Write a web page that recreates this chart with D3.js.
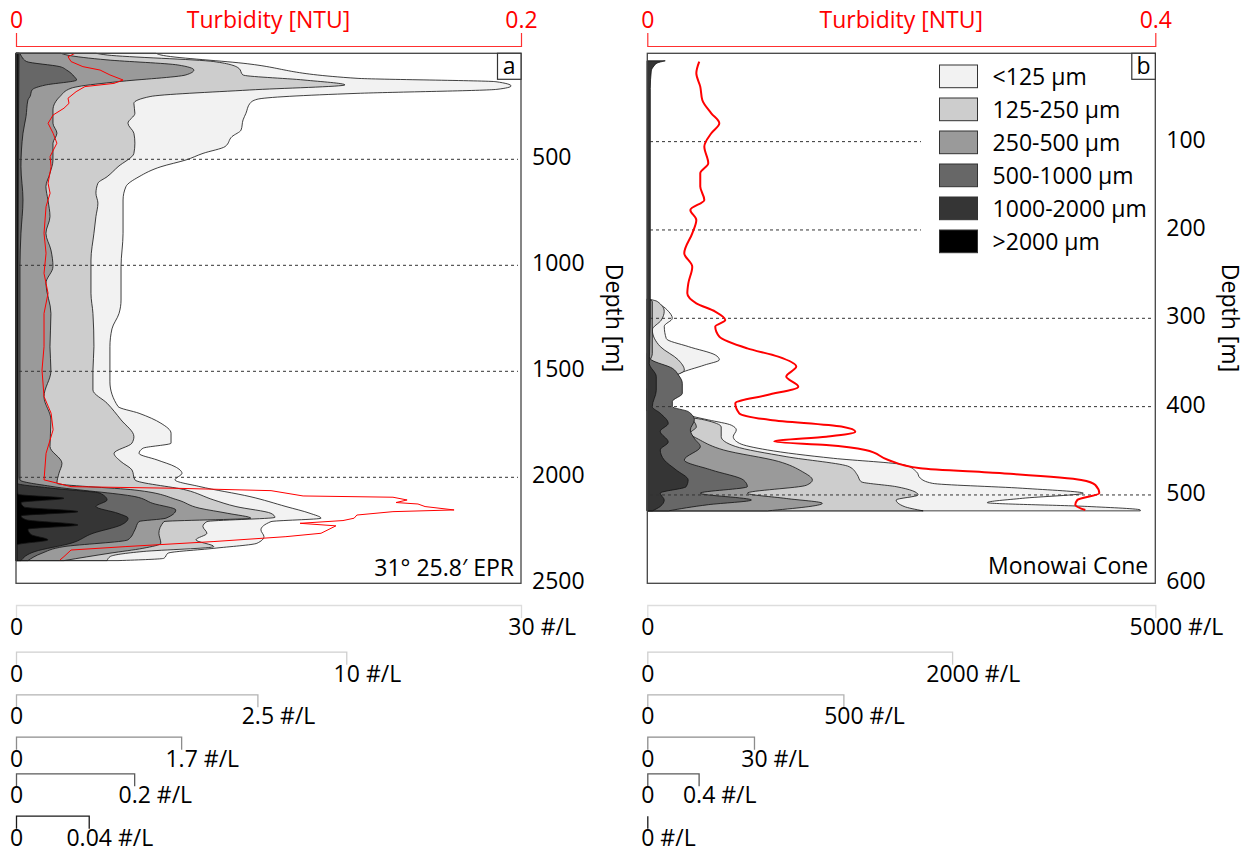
<!DOCTYPE html>
<html><head><meta charset="utf-8">
<script src="https://cdn.jsdelivr.net/npm/d3@7"></script>
<style>body{margin:0;background:#fff}svg{display:block}</style>
</head><body><svg id="c" width="1246" height="852"></svg>
<script>
// ---------------- DATA ----------------
const sizeClasses = ["<125 µm","125-250 µm","250-500 µm","500-1000 µm","1000-2000 µm",">2000 µm"];
const turbTitle = "Turbidity [NTU]";
const depthTitle = "Depth [m]";
const siteA = "31° 25.8′ EPR", siteB = "Monowai Cone";
const depthTicksA = [500,1000,1500,2000,2500];
const depthTicksB = [100,200,300,400,500,600];
const turbTicksA = [0,0.2], turbTicksB = [0,0.4];
const scaleMaxA = [30,10,2.5,1.7,0.2,0.04];     // #/L per scale bar
const scaleMaxB = [5000,2000,500,30,0.4,0];

// Panel a : 31°25.8' EPR  [depth m, #/L]
const epr_lt125 = [[0,8.32],[8,8.61],[47,13.49],[118,20.26],[134,28.51],[154,29.41],[170,28.57],[189,20.26],[217,14.32],[236,13.90],[283,13.66],[314,13.49],[362,13.37],[393,12.83],[440,12.42],[472,11.11],[503,10.10],[535,8.61],[582,7.31],[629,6.53],[692,6.36],[849,6.36],[1006,6.24],[1164,6.24],[1227,6.12],[1300,5.70],[1384,5.58],[1550,5.58],[1666,6.06],[1698,7.31],[1745,8.61],[1792,9.21],[1839,9.21],[1863,7.54],[1887,7.31],[1918,8.38],[1950,9.45],[1981,9.86],[2012,9.45],[2044,10.93],[2091,13.90],[2138,16.04],[2170,17.47],[2193,18.12],[2209,15.15],[2248,14.55],[2280,14.73],[2311,14.32],[2335,11.76],[2358,9.03],[2382,8.79],[2393,6.06]];
const epr_125_250 = [[0,2.42],[8,2.76],[39,5.99],[71,6.75],[102,6.87],[126,8.72],[149,9.96],[173,7.08],[204,4.06],[236,3.57],[283,3.60],[330,3.39],[377,3.57],[424,3.60],[472,3.57],[535,3.09],[582,2.76],[613,2.48],[660,2.42],[707,2.48],[770,2.42],[849,2.36],[975,2.27],[1132,2.27],[1227,2.33],[1384,2.36],[1497,2.33],[1588,2.33],[1651,2.76],[1729,3.18],[1808,3.57],[1839,3.51],[1887,2.97],[1926,3.18],[1965,3.51],[2012,3.60],[2060,5.15],[2107,5.99],[2138,6.66],[2170,7.72],[2189,7.84],[2209,5.78],[2232,5.66],[2264,5.78],[2295,5.45],[2327,5.99],[2350,3.85],[2374,2.85],[2393,2.76]];
const epr_250_500 = [[0,0.466],[8,0.528],[31,0.942],[55,1.676],[79,1.842],[102,1.759],[134,1.055],[157,0.642],[165,0.569],[204,0.455],[267,0.383],[330,0.383],[377,0.424],[424,0.383],[503,0.383],[566,0.352],[629,0.310],[692,0.331],[770,0.352],[849,0.310],[928,0.362],[1006,0.383],[1085,0.310],[1227,0.362],[1384,0.352],[1497,0.362],[1619,0.290],[1729,0.362],[1855,0.352],[1934,0.476],[1981,0.445],[2028,0.424],[2060,1.231],[2107,1.676],[2146,1.904],[2170,2.194],[2193,2.432],[2209,1.532],[2264,1.480],[2311,1.500],[2335,1.314],[2358,0.973],[2393,0.497]];
const epr_500_1000 = [[0,0.04],[16,0.059],[39,0.110],[63,0.452],[79,0.521],[110,0.600],[126,0.624],[150,0.300],[173,0.165],[204,0.144],[220,0.123],[299,0.103],[377,0.072],[535,0.051],[692,0.072],[849,0.051],[1006,0.041],[1500,0.041],[2012,0.041],[2044,0.381],[2091,1.224],[2123,1.409],[2154,1.645],[2193,1.543],[2209,1.265],[2248,1.224],[2295,1.152],[2327,0.494],[2358,0.267],[2393,0.123]];
const epr_1000_2000 = [[0,0.0051],[1000,0.0034],[2000,0.0034],[2028,0.0017],[2052,0.0627],[2075,0.1423],[2107,0.1541],[2138,0.1355],[2170,0.1727],[2193,0.1897],[2225,0.1778],[2264,0.1304],[2311,0.0931],[2350,0.0322],[2393,0.0085]];
const epr_gt2000 = [[0,0.0008],[2060,0.0008],[2080,0.0011],[2099,0.0264],[2119,0.0028],[2140,0.0044],[2162,0.0341],[2182,0.0028],[2200,0.0055],[2225,0.0341],[2245,0.0066],[2270,0.0083],[2295,0.0176],[2319,0.0006],[2393,0.0006]];
const epr_turb = [[0,0.0234],[16,0.0206],[39,0.0218],[63,0.0265],[79,0.0333],[102,0.0372],[126,0.0424],[142,0.0388],[157,0.0273],[181,0.0238],[212,0.0206],[236,0.0210],[259,0.0190],[291,0.0147],[330,0.0127],[377,0.0147],[424,0.0162],[487,0.0135],[535,0.0139],[613,0.0127],[660,0.0135],[723,0.0119],[849,0.0111],[943,0.0119],[1038,0.0111],[1132,0.0127],[1227,0.0111],[1384,0.0111],[1494,0.0103],[1619,0.0111],[1698,0.0139],[1776,0.0147],[1887,0.0119],[2012,0.0111],[2044,0.0218],[2052,0.0642],[2063,0.1010],[2088,0.1137],[2094,0.1493],[2107,0.1549],[2119,0.1505],[2126,0.1592],[2138,0.1620],[2154,0.1735],[2162,0.1493],[2178,0.1350],[2193,0.1339],[2204,0.1295],[2217,0.1125],[2229,0.1267],[2264,0.1208],[2280,0.1069],[2303,0.0784],[2327,0.0432],[2343,0.0218],[2374,0.0190],[2390,0.0174]];

// Panel b : Monowai Cone  [depth m, #/L]
const mon_lt125 = [[278,0],[281,34],[285,128],[292,207],[300,246],[309,167],[323,187],[332,404],[341.5,669],[347,709],[353,561],[362,325],[366,266],[372,98],[380,49],[400,197],[411,443],[415,600],[421,827],[426.4,876],[434,846],[441.5,906],[449,1181],[458.5,1831],[466,2530],[473.6,2648],[481,2687],[486.8,2805],[492.4,3691],[498,4291],[503.8,3691],[508.7,3346],[513,4331],[517,4852],[518,4852]];
const mon_125_250 = [[278,0],[281,66],[292,111],[302,92],[313,33],[332,85],[347,203],[358.5,243],[364,190],[370,33],[380,0],[405,0],[415,374],[423,485],[434,485],[445,577],[456.6,911],[468,1325],[477,1377],[485,1403],[490.6,1633],[500,1777],[505.7,1633],[513,1685],[518,1810]];
const mon_250_500 = [[278,0],[281,12.8],[340,12.8],[347,7.7],[360,0],[405,0],[415,114.8],[423,125],[430,109.7],[438,135.2],[449,193.9],[462,334.2],[473.6,395.4],[483,420.9],[489,405.6],[498,255.1],[504,354.6],[509.4,446.4],[518,306.1]];
const mon_500_1000 = [[340,0],[347,1.13],[356.6,7.04],[364,8.72],[373.6,9.85],[385,9.85],[394.3,7.04],[400,7.04],[405.7,11.54],[415,13.23],[426.4,12.10],[436,13.23],[445.3,14.92],[460.4,10.41],[471.7,18.01],[483,27.02],[490.6,28.14],[498,14.92],[505.7,29.27],[511,17.17],[518,5.91]];
const mon_1000_2000 = [[8.5,0.1398],[11,0.0777],[14,0.0544],[20,0.0311],[40,0.0233],[300,0.0233],[351,0.0155],[366,0.0699],[381.5,0.0699],[400,0.0388],[407.5,0.1010],[419,0.1631],[428,0.1010],[440,0.1631],[449,0.1010],[460.4,0.1320],[471.7,0.2252],[483,0.3184],[490.6,0.3029],[498,0.1010],[505.7,0.1320],[513,0.1010],[518,0.0388]];
const mon_gt2000 = [[8.5,0],[518,0]];
const mon_turb = [[9.4,0.0409],[22.6,0.0386],[37.7,0.0417],[52.8,0.0433],[67.9,0.0504],[79.2,0.0567],[90.5,0.0504],[105.6,0.0449],[124.5,0.0480],[135.8,0.0417],[150.9,0.0417],[166,0.0449],[177.3,0.0339],[188.7,0.0386],[203.8,0.0354],[226.4,0.0291],[241.5,0.0354],[260.4,0.0323],[271.7,0.0315],[283,0.0386],[292.4,0.0535],[301.9,0.0614],[309.4,0.0535],[320.8,0.0567],[334,0.0787],[343.4,0.1031],[354.7,0.1173],[366,0.1094],[377.4,0.1189],[386.8,0.0945],[396.2,0.0693],[407.5,0.0724],[415.1,0.0969],[422.6,0.1528],[428.3,0.1638],[434,0.1409],[439.6,0.1000],[443.4,0.1409],[449.1,0.1717],[460.4,0.1898],[469.8,0.2150],[475.5,0.2795],[483,0.3417],[488.7,0.3528],[498.1,0.3559],[505.7,0.3386],[511.3,0.3370],[517,0.3449]];

// ---------------- STYLE / LAYOUT ----------------
const FONT = '"Open Sans", sans-serif';
const FS = 23;
const classFills = ["#f2f2f2","#cdcdcd","#9a9a9a","#676767","#353535","#000000"];
const barColors = ["#dddddd","#cfcfcf","#b3b3b3","#8c8c8c","#5a5a5a","#1a1a1a"];
const barY = [605,651.7,694.3,736.7,773.3,815.7];
const barFracA = [1,0.654,0.478,0.327,0.234,0.144];
const barFracB = [1,0.600,0.386,0.210,0.101,0];

const svg = d3.select("#c");

function drawPanel(p){
  const g = svg.append("g");
  const width = p.right - p.left;
  const y = d3.scaleLinear().domain([0,p.depthMax]).range([p.top,p.bottom]);
  const xs = p.scaleMax.map((m,i)=>d3.scaleLinear().domain([0,m]).range([p.left,p.left+width*p.barFrac[i]]));
  const xt = d3.scaleLinear().domain(p.turbTicks).range([p.left,p.right]);

  p.classes.forEach((data,i)=>{
    const area = d3.area().curve(d3.curveMonotoneY)
      .y(d=>y(d[0])).x0(p.left).x1(d=>xs[i](d[1]));
    g.append("path").datum(data).attr("d",area)
      .attr("fill",classFills[i]).attr("stroke","#111").attr("stroke-width",0.8)
      .attr("stroke-linejoin","round");
  });

  p.dashes.forEach(dd=>{
    g.append("line").attr("x1",dd[1]).attr("x2",dd[2])
      .attr("y1",y(dd[0])).attr("y2",y(dd[0]))
      .attr("stroke","#333").attr("stroke-width",1).attr("stroke-dasharray","3,3");
  });

  g.append("path").datum(p.turb)
    .attr("d",d3.line().curve(p.turbCurve).y(d=>y(d[0])).x(d=>xt(d[1])))
    .attr("fill","none").attr("stroke","#ff0000").attr("stroke-width",p.turbWidth)
    .attr("stroke-linejoin","round");

  g.append("rect").attr("x",p.left).attr("y",p.top).attr("width",width).attr("height",p.bottom-p.top)
    .attr("fill","none").attr("stroke","#444").attr("stroke-width",1.3);

  // panel letter
  g.append("rect").attr("x",p.right-23.5).attr("y",p.top).attr("width",23.5).attr("height",26)
    .attr("fill","#fff").attr("stroke","#333").attr("stroke-width",1.2);
  g.append("text").attr("x",p.right-11.75).attr("y",p.top+20.5).attr("text-anchor","middle")
    .attr("font-family",FONT).attr("font-size",FS).attr("fill","#000").text(p.letter);

  // site
  g.append("text").attr("x",p.right-7).attr("y",p.siteY).attr("text-anchor","end")
    .attr("font-family",FONT).attr("font-size",FS).attr("fill","#000").text(p.site);

  // top turbidity axis
  const ta = g.append("g").attr("transform","translate(0,46)")
    .call(d3.axisTop(xt).tickValues(p.turbTicks).tickSizeInner(0).tickSizeOuter(13).tickFormat(d=>String(d)));
  ta.attr("font-family",null).attr("font-size",null);
  ta.select(".domain").attr("stroke","#ff3030").attr("stroke-width",1.2);
  ta.selectAll(".tick line").remove();
  ta.selectAll("text").attr("fill","#ff0000").attr("font-family",FONT).attr("font-size",FS)
    .attr("y",-18).attr("dy",null);
  g.append("text").attr("x",(p.left+p.right)/2).attr("y",28).attr("text-anchor","middle")
    .attr("font-family",FONT).attr("font-size",FS).attr("fill","#ff0000").text(turbTitle);

  // right depth axis
  const ra = g.append("g").attr("transform",`translate(${p.right},0)`)
    .call(d3.axisRight(y).tickValues(p.depthTicks).tickSize(0).tickPadding(11).tickFormat(d=>String(d)));
  ra.attr("font-family",null).attr("font-size",null);
  ra.select(".domain").remove();
  ra.selectAll("text").attr("fill","#000").attr("font-family",FONT).attr("font-size",FS)
    .attr("dy","0.32em").attr("transform","translate(0,-2)");
  g.append("text").attr("transform",`translate(${p.depthTitleX},318) rotate(90)`)
    .attr("text-anchor","middle").attr("font-family",FONT).attr("font-size",FS).attr("fill","#000")
    .text(depthTitle);

  // scale bars
  p.scaleMax.forEach((m,i)=>{
    const vals = Array.from(new Set([0,m]));
    const ba = g.append("g").attr("transform",`translate(0,${barY[i]})`)
      .call(d3.axisBottom(xs[i]).tickValues(vals).tickSizeInner(0).tickSizeOuter(13).tickFormat(d=>String(d)));
    ba.attr("font-family",null).attr("font-size",null);
    ba.select(".domain").attr("stroke",barColors[i]).attr("stroke-width",1.3);
    ba.selectAll(".tick line").remove();
    ba.selectAll("text").attr("fill","#000").attr("font-family",FONT).attr("font-size",FS)
      .attr("y",30).attr("dy",null)
      .each(function(d){
        if(d===m){
          const t = d3.select(this);
          const w = this.getComputedTextLength();
          t.attr("text-anchor","start").attr("x",-w/2);
          t.append("tspan").text(" #/L");
        }
      });
  });
}

drawPanel({
  left:16, right:521, top:53.3, bottom:583.3, depthMax:2500,
  depthTicks:depthTicksA, turbTicks:turbTicksA,
  classes:[epr_lt125,epr_125_250,epr_250_500,epr_500_1000,epr_1000_2000,epr_gt2000],
  scaleMax:scaleMaxA, barFrac:barFracA,
  turb:epr_turb, turbCurve:d3.curveLinear, turbWidth:1,
  dashes:[[500,19,518],[1000,19,518],[1500,19,518],[2000,19,518]],
  letter:"a", site:siteA, siteY:576, depthTitleX:606
});

drawPanel({
  left:647.3, right:1155.3, top:53.3, bottom:583.3, depthMax:600,
  depthTicks:depthTicksB, turbTicks:turbTicksB,
  classes:[mon_lt125,mon_125_250,mon_250_500,mon_500_1000,mon_1000_2000,mon_gt2000],
  scaleMax:scaleMaxB, barFrac:barFracB,
  turb:mon_turb, turbCurve:d3.curveMonotoneY, turbWidth:2,
  dashes:[[100,650,921],[200,650,921],[300,650,1153],[400,650,1153],[500,650,1153]],
  letter:"b", site:siteB, siteY:574, depthTitleX:1222
});

// legend (panel b)
const lg = svg.append("g");
sizeClasses.forEach((c,i)=>{
  const yy = 65 + i*33;
  lg.append("rect").attr("x",939.5).attr("y",yy).attr("width",38).attr("height",22.7)
    .attr("fill",classFills[i]).attr("stroke","#333").attr("stroke-width",1);
  lg.append("text").attr("x",992.6).attr("y",yy+11.5).attr("dy","0.35em")
    .attr("font-family",FONT).attr("font-size",FS).attr("fill","#000").text(c);
});
</script>
</body></html>
